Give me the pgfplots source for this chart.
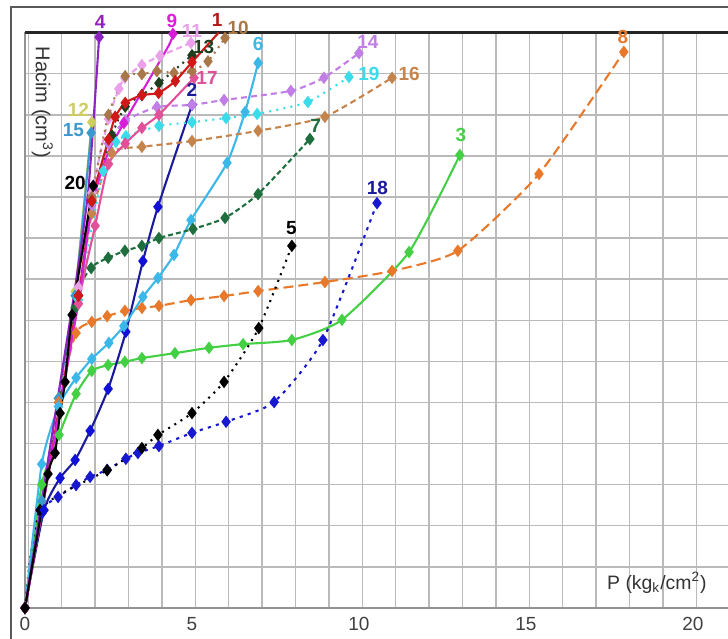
\documentclass[border=0pt]{standalone}
\usepackage{pgfplots}
\pgfplotsset{compat=1.18}
\usepackage{fontspec}
\setmainfont{Liberation Sans}
\definecolor{c1}{HTML}{D01818}\definecolor{c1l}{HTML}{B01818}
\definecolor{c2}{HTML}{1A1A9A}\definecolor{c2m}{HTML}{1010D8}
\definecolor{c3}{HTML}{44D044}
\definecolor{c4}{HTML}{8E24C0}
\definecolor{c6}{HTML}{3CB8E8}
\definecolor{c7}{HTML}{1E6E3E}
\definecolor{c8}{HTML}{E8782A}
\definecolor{c9}{HTML}{D81ED8}
\definecolor{c10}{HTML}{A8784A}
\definecolor{c11}{HTML}{EAA0EA}
\definecolor{c12}{HTML}{CDCD60}
\definecolor{c13}{HTML}{1E3E1E}
\definecolor{c14}{HTML}{C07EE6}
\definecolor{c15}{HTML}{3A9AD0}
\definecolor{c16}{HTML}{C4844C}
\definecolor{c17}{HTML}{E2509A}
\definecolor{c18}{HTML}{1818D0}
\definecolor{c19}{HTML}{3ADCEA}
\definecolor{gridc}{HTML}{BABABA}
\begin{document}
\begin{tikzpicture}
\begin{axis}[
  x=16.7pt, y=20.55pt,
  xmin=0, xmax=22, ymin=0, ymax=14,
  clip=false,
  axis line style={draw=gray!85, line width=0.75pt},
  xtick={0,5,10,15,20},
  minor xtick={0.1,1.1,2.1,3.1,4.1,5.1,6.1,7.1,8.1,9.1,10.1,11.1,12.1,13.1,14.1,15.1,16.1,17.1,18.1,19.1,20.1,21.1},
  ytick={0,1,...,14}, yticklabels={},
  xmajorgrids=false, xminorgrids=true, ymajorgrids=true,
  grid style={draw=gridc, line width=0.75pt},
  minor grid style={draw=gridc, line width=0.75pt},
  major tick length=0pt, minor tick length=0pt,
  /pgf/number format/assume math mode=true,
  xticklabel style={font=\fontsize{9.5}{11}\selectfont, text=black!75, yshift=-1pt},
  every axis plot/.append style={line width=1.05pt, mark size=2.3pt, smooth, tension=0.35},
]
\draw[gray!70!black, line width=0.7pt] (axis cs:-0.42,-5) -- (axis cs:-0.42,14.62) -- (axis cs:30,14.62);
\draw[black!85, line width=1.2pt] (axis cs:0,14) -- (axis cs:22,14);
\coordinate (bbA) at (axis cs:-0.749,14.793);
\coordinate (bbB) at (axis cs:21.05,-0.754);

% 12
\addplot[c12, mark=diamond*] coordinates {(0,0)(0.5,2.6)(1,5.1)(1.5,7.7)(2.0,11.82)};
% 15
\addplot[c15, mark=diamond*] coordinates {(0,0)(0.5,2.6)(1,5.1)(1.5,7.6)(1.98,11.56)};
% 8
\addplot[c8, mark=diamond*, mark options={solid}, dash pattern=on 5pt off 2.5pt] coordinates {(0,0)(1.0,5.0)(1.53,6.69)(2.0,6.96)(2.46,7.10)(2.99,7.23)(3.5,7.30)(4.01,7.35)(4.97,7.49)(5.96,7.59)(6.98,7.71)(8.98,7.93)(10.99,8.20)(12.96,8.69)(15.39,10.56)(17.93,13.53)};
% 3
\addplot[c3, mark=diamond*] coordinates {(0,0)(0.5,3.0)(1.02,4.21)(1.53,5.21)(2.0,5.77)(2.49,5.91)(2.99,5.99)(3.5,6.08)(4.49,6.20)(5.51,6.33)(6.53,6.42)(7.99,6.52)(9.49,7.01)(11.5,8.66)(13.02,11.02)};
% 18
\addplot[c18, mark=diamond*, mark options={solid}, dash pattern=on 1.6pt off 2.6pt] coordinates {(0,0)(0.51,2.31)(0.99,2.70)(1.53,2.99)(1.95,3.19)(2.46,3.36)(3.02,3.63)(3.38,3.77)(4.01,3.94)(5.0,4.26)(6.02,4.53)(7.46,5.01)(8.92,6.52)(10.54,9.85)};
% 5
\addplot[black, mark=diamond*, mark options={solid}, dash pattern=on 1pt off 2.6pt] coordinates {(0,0)(0.45,2.38)(2.46,3.35)(3.5,3.89)(3.98,4.21)(5.0,4.74)(5.96,5.50)(7.0,6.81)(7.99,8.81)};
% 2
\addplot[c2, mark=diamond*, mark options={fill=c2m, draw=c2m}] coordinates {(0,0)(0.57,2.38)(1.05,3.16)(1.5,3.6)(1.95,4.31)(2.49,5.33)(3.02,6.72)(3.53,8.44)(3.98,9.76)(5.0,12.24)};
% 6
\addplot[c6, mark=diamond*] coordinates {(0,0)(0.5,3.5)(1.0,4.9)(1.53,5.60)(2.0,6.06)(2.51,6.45)(2.96,6.86)(3.53,7.57)(3.98,8.03)(4.46,8.59)(4.97,9.44)(6.05,10.83)(6.59,12.07)(6.98,13.26)};
% 7
\addplot[c7, mark=diamond*, mark options={solid}, dash pattern=on 2.5pt off 1.5pt] coordinates {(0,0)(1.5,7.3)(1.98,8.27)(2.49,8.52)(2.99,8.69)(3.5,8.81)(4.01,9.0)(5.03,9.22)(5.99,9.49)(6.98,10.07)(8.53,11.41)};
% 16
\addplot[c16, mark=diamond*, mark options={solid}, dash pattern=on 3pt off 2pt] coordinates {(0,0)(1.6,7.5)(2.0,9.6)(2.6,11.07)(3.5,11.22)(5.0,11.36)(6.98,11.61)(8.98,11.95)(10.99,12.9)};
% 19
\addplot[c19, mark=diamond*, mark options={solid}, dash pattern=on 1pt off 2.6pt] coordinates {(0,0)(1.6,7.5)(2.34,10.63)(2.72,11.34)(3.02,11.48)(4.01,11.73)(5.0,11.82)(6.02,11.92)(6.95,12.02)(8.47,12.31)(9.7,12.92)};
% 14
\addplot[c14, mark=diamond*, mark options={solid}, dash pattern=on 3pt off 2pt] coordinates {(0,0)(1.6,7.6)(2,9.8)(2.5,11.3)(3,11.85)(3.95,12.19)(5,12.24)(5.96,12.36)(7.96,12.58)(8.95,12.9)(10.0,13.5)};
% 17
\addplot[c17, mark=diamond*] coordinates {(0,0)(1.6,7.4)(2.1,9.3)(2.5,10.8)(3,11.3)(3.5,11.68)(4.01,12.0)(5.06,12.9)};
% 11
\addplot[c11, mark=diamond*, mark options={solid}, dash pattern=on 3pt off 2pt] coordinates {(0,0)(1.6,7.8)(2,10.1)(2.5,11.9)(2.81,12.63)(2.99,12.9)(3.5,13.21)(4.04,13.43)(4.97,13.75)};
% 10
\addplot[c10, mark=diamond*, mark options={solid}, dash pattern=on 1pt off 2.4pt] coordinates {(0,0)(1.6,7.6)(2,10.0)(2.5,12.0)(3,12.94)(3.5,12.99)(3.95,13.06)(4.46,13.02)(5,13.06)(5.48,13.3)(5.99,13.87)};
% 13
\addplot[c13, mark=diamond*, mark options={solid}, dash pattern=on 1pt off 2.4pt] coordinates {(0,0)(1.6,7.6)(2,9.9)(2.6,11.5)(3.0,12.2)(3.5,12.48)(4.01,12.77)(5.0,13.45)};
% 1
\addplot[c1, mark=diamond*, mark indices={1,...,10}] coordinates {(0,0)(1.6,7.6)(2,9.9)(2.5,11.4)(2.7,11.95)(3,12.29)(3.5,12.48)(4,12.53)(4.5,12.82)(5,13.28)(5.8,14.0)};
% 9
\addplot[c9, mark=diamond*, mark indices={1,5,7}] coordinates {(0,0)(1.6,7.5)(2,9.8)(2.5,11.1)(2.96,11.8)(4.28,13.65)(4.43,13.97)};
% 4
\addplot[c4, mark=diamond*, mark indices={6}] coordinates {(0,0)(0.5,2.6)(1,5.2)(1.5,7.8)(1.9,10.2)(2.22,13.89)};
% 20
\addplot[black, mark=diamond*] coordinates {(0,0)(0.69,3.26)(0.9,3.77)(1.05,4.74)(1.2,5.5)(1.41,7.13)(2.04,10.27)};

% labels
\begin{scope}[every node/.style={font=\fontsize{9.5}{11}\selectfont\bfseries, inner sep=0pt}]
\node[text=c4] at (axis cs:2.25,14.26) {4};
\node[text=c9] at (axis cs:4.40,14.28) {9};
\node[text=c11] at (axis cs:5.0,14.03) {11};
\node[text=c1l] at (axis cs:5.75,14.3) {1};
\node[text=c10] at (axis cs:6.38,14.12) {10};
\node[text=c13] at (axis cs:5.35,13.65) {13};
\node[text=c6] at (axis cs:6.98,13.72) {6};
\node[text=c17] at (axis cs:5.45,12.9) {17};
\node[text=c2] at (axis cs:5.0,12.6) {2};
\node[text=c14] at (axis cs:10.27,13.77) {14};
\node[text=c19] at (axis cs:10.3,13.0) {19};
\node[text=c16] at (axis cs:11.5,12.99) {16};
\node[text=c7] at (axis cs:8.7,11.72) {7};
\node[text=c12] at (axis cs:1.6,12.12) {12};
\node[text=c15] at (axis cs:1.45,11.63) {15};
\node[text=black] at (axis cs:1.5,10.34) {20};
\node[text=c2] at (axis cs:10.55,10.22) {18};
\node[text=black] at (axis cs:7.98,9.25) {5};
\node[text=c3] at (axis cs:13.05,11.5) {3};
\node[text=c8] at (axis cs:17.9,13.9) {8};
\end{scope}
\node[rotate=-90, font=\fontsize{10}{12}\selectfont, text=black!80] at (axis cs:0.52,12.3) {Hacim (cm\textsuperscript{3})};
\node[font=\fontsize{9.7}{12}\selectfont, text=black!80] at (axis cs:18.92,0.61) {P (kg\textsubscript{k}/cm\textsuperscript{2})};
\end{axis}
\pgfresetboundingbox
\path[use as bounding box] (bbA) rectangle (bbB);
\end{tikzpicture}
\end{document}
